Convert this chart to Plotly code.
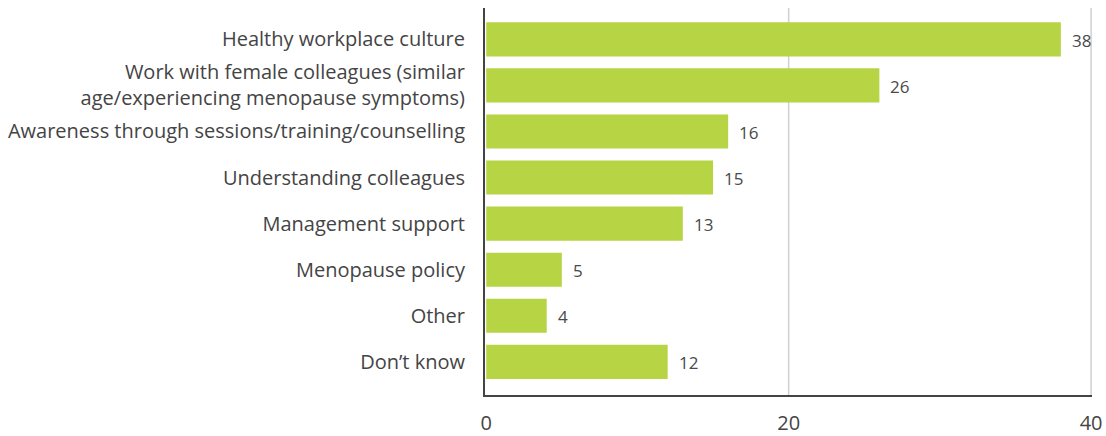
import plotly.graph_objects as go

categories = [
    "Healthy workplace culture",
    "Work with female colleagues (similar<br>age/experiencing menopause symptoms)",
    "Awareness through sessions/training/counselling",
    "Understanding colleagues",
    "Management support",
    "Menopause policy",
    "Other",
    "Don’t know",
]
values = [38, 26, 16, 15, 13, 5, 4, 12]
x_ticks = [0, 20, 40]

fig = go.Figure(go.Bar(
    x=values,
    y=categories,
    orientation="h",
    marker=dict(color="#b6d443", line=dict(width=0)),
    hoverinfo="x+y",
))

for c, v in zip(categories, values):
    fig.add_annotation(
        x=v, y=c, text=str(v), showarrow=False,
        xanchor="left", xshift=9, yshift=-1,
        font=dict(family="Open Sans", size=17, color="#4a4a4a"),
    )

for t in x_ticks[1:]:
    fig.add_shape(
        type="line", xref="x", yref="paper", x0=t, x1=t, y0=0, y1=1,
        line=dict(color="#d0d0d0", width=1.5), layer="below",
    )

fig.update_layout(
    width=1106, height=436,
    margin=dict(l=485, r=14, t=8, b=41, autoexpand=False),
    paper_bgcolor="white", plot_bgcolor="white",
    bargap=0.26,
    showlegend=False,
    font=dict(family="Open Sans", color="#444444"),
)
fig.update_xaxes(
    automargin=False,
    range=[-0.08, 40.06],
    tickvals=x_ticks,
    showgrid=False,
    zeroline=False,
    showline=True, linecolor="#444444", linewidth=2,
    tickfont=dict(family="Open Sans", size=20, color="#444444"),
    ticklabelstandoff=9,
)
fig.update_yaxes(
    automargin=False,
    categoryorder="array", categoryarray=categories,
    range=[7.72, -0.68],
    showgrid=False, zeroline=False,
    showline=True, linecolor="#444444", linewidth=2,
    tickfont=dict(family="Open Sans", size=20, color="#444444"),
    ticklabelstandoff=14,
)

fig.write_html("out.html", config={"displayModeBar": False},
               post_script="document.body.style.margin='0';")
